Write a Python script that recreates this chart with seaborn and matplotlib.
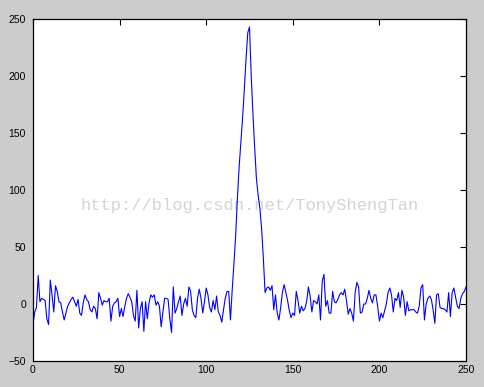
import numpy as np
import pandas as pd
import matplotlib
matplotlib.use("Agg")
import matplotlib.pyplot as plt
import seaborn as sns

# sample values, one per x = 0..250
signal_values = [
    -18, -7, -3, 25, 2, 5, 4, 3, -13, -18,
    21, 8, -7, 16, 11, 2, 1, -7, -14, -8,
    -2, 1, 4, 6, 2, -2, 4, -8, -10, 1,
    8, 4, 2, -5, -7, -2, -4, -13, 10, 5,
    -1, 3, 2, 2, 5, -15, -2, 1, 2, 5,
    -11, -4, -11, -2, 5, 9, 6, 2, -10, -15,
    12, -21, -4, 2, -24, 2, -13, 1, 8, 6,
    8, -1, 2, -2, -20, -7, 5, 5, 4, -13,
    -25, 15, -8, -4, 2, 7, -10, 0, 5, -2,
    15, 11, -5, -10, -12, 5, 13, 5, -8, 2,
    14, 8, -3, -7, 3, -5, 7, -7, -10, -16,
    -5, 5, 11, 11, -14, 12, 35, 60, 92, 120,
    142, 163, 188, 215, 238, 243, 200, 166, 137, 110,
    95, 84, 66, 40, 10, 14, 15, 12, 16, -5,
    8, -8, -14, -3, 10, 17, 10, 3, -6, -12,
    -8, -10, 11, 3, -8, -2, -6, -4, 2, 15,
    7, -7, 3, 2, 0, 8, -14, 20, 26, -2,
    3, -8, -8, 11, 2, 1, 4, 8, 10, 8,
    13, 3, -9, -4, -8, -15, 10, 19, 15, -8,
    -7, 0, 0, 5, 12, 5, 1, 8, 8, -2,
    -15, -8, -12, -6, 0, 10, 14, 8, -7, 5,
    3, 10, -3, 12, 6, -10, 2, -6, -5, -5,
    -5, -7, -8, -2, 14, 17, -14, 0, 5, 7,
    4, -5, -17, 8, 9, -3, -4, -4, -5, -7,
    10, -11, 10, 14, 6, -2, -4, 5, 9, 11,
    15,
]
sample_index = list(range(len(signal_values)))
x_ticks = [0, 50, 100, 150, 200, 250]
y_ticks = [-50, 0, 50, 100, 150, 200, 250]
watermark = "http://blog.csdn.net/TonyShengTan"

df = pd.DataFrame({"x": sample_index, "y": signal_values})

sns.set_style("white")
plt.rcParams["font.family"] = ["Liberation Sans", "DejaVu Sans"]

fig = plt.figure(figsize=(4.85, 3.87), dpi=100, facecolor="#cccccc")
ax = fig.add_axes([33 / 485, 1 - 361 / 387, (466 - 33) / 485, (361 - 19) / 387])
ax.set_facecolor("white")

sns.lineplot(data=df, x="x", y="y", ax=ax, color="#0000ff", linewidth=0.8)

ax.set_xlim(0, 250)
ax.set_ylim(-50, 250)
ax.set_xticks(x_ticks)
ax.set_yticks(y_ticks)
ax.set_xlabel("")
ax.set_ylabel("")
ax.tick_params(direction="in", length=4, width=0.8, colors="black",
               labelsize=7.5, top=True, right=True, pad=3)
ax.tick_params(axis="y", pad=5)
for s in ax.spines.values():
    s.set_visible(True)
    s.set_color("black")
    s.set_linewidth(0.9)

ax.text(0.5, 0.455, watermark, transform=ax.transAxes, ha="center", va="center",
        fontsize=12.3, color="#d4d4d4", family=["Liberation Mono", "DejaVu Sans Mono"],
        zorder=0)

fig.savefig("out.png", dpi=100, facecolor=fig.get_facecolor())
